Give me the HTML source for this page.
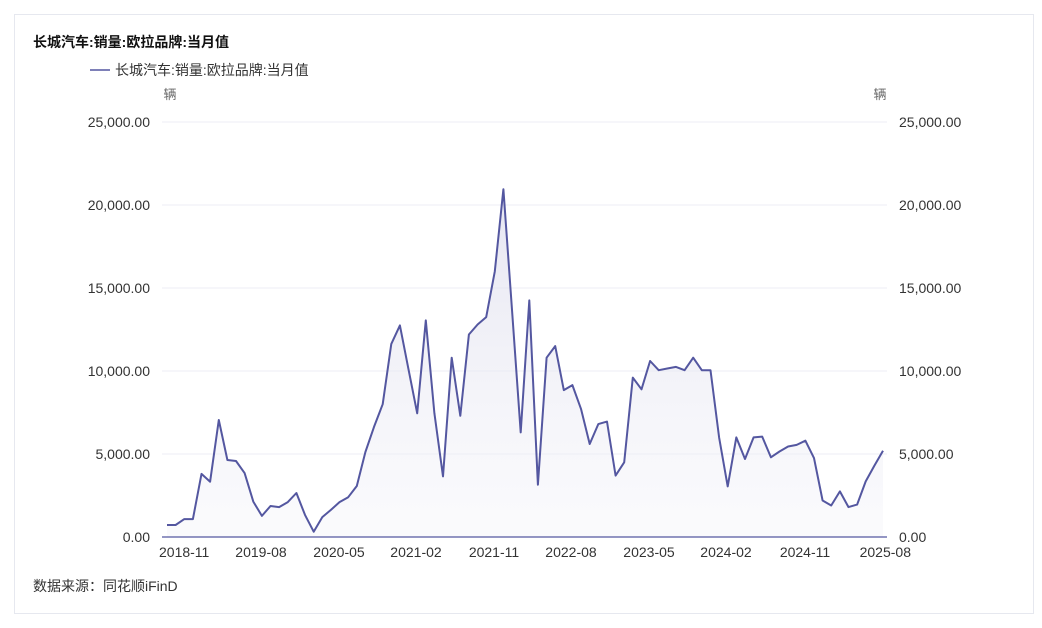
<!DOCTYPE html>
<html><head><meta charset="utf-8"><style>
body{margin:0;background:#fff;width:1042px;height:623px;overflow:hidden;font-family:"Liberation Sans","Noto Sans CJK SC",sans-serif}
</style></head><body>
<svg id="s" width="1042" height="623" xmlns="http://www.w3.org/2000/svg" font-family="Liberation Sans, Noto Sans CJK SC, sans-serif">
<defs><linearGradient id="g" x1="0" y1="0" x2="0" y2="1"><stop offset="0" stop-color="#dcdcec" stop-opacity="0.7"/><stop offset="1" stop-color="#f4f4f9" stop-opacity="0.4"/></linearGradient></defs>
<rect x="14.5" y="14.5" width="1019" height="599" fill="#fff" stroke="#e6e8ef"/>
<text x="33" y="47" font-size="14" font-weight="bold" fill="#111">长城汽车:销量:欧拉品牌:当月值</text>
<line x1="90" y1="70" x2="110" y2="70" stroke="#5457a0" stroke-width="1.5"/>
<text x="115" y="75" font-size="14" fill="#333">长城汽车:销量:欧拉品牌:当月值</text>
<text x="170" y="99" font-size="13" fill="#666" text-anchor="middle">辆</text>
<text x="880" y="99" font-size="13" fill="#666" text-anchor="middle">辆</text>
<g id="grid"></g>
<path id="area" fill="url(#g)"/>
<polyline id="ln" fill="none" stroke="#5457a0" stroke-width="2" stroke-linejoin="round"/>
<line x1="162" y1="537" x2="887" y2="537" stroke="#5457a0" stroke-width="1.3"/>
<g font-size="14" fill="#333">
<text x="159" y="557">2018-11</text>
<text x="261" y="557" text-anchor="middle">2019-08</text>
<text x="339" y="557" text-anchor="middle">2020-05</text>
<text x="416" y="557" text-anchor="middle">2021-02</text>
<text x="494" y="557" text-anchor="middle">2021-11</text>
<text x="571" y="557" text-anchor="middle">2022-08</text>
<text x="649" y="557" text-anchor="middle">2023-05</text>
<text x="726" y="557" text-anchor="middle">2024-02</text>
<text x="805" y="557" text-anchor="middle">2024-11</text>
<text x="911" y="557" text-anchor="end">2025-08</text>
</g>
<text x="33" y="591" font-size="14" fill="#333">数据来源：同花顺iFinD</text>
</svg>
<script>
var v=[720,720,1080,1080,3800,3330,7050,4640,4580,3850,2130,1270,1870,1800,2100,2650,1330,320,1200,1630,2100,2400,3070,5120,6630,8000,11630,12750,10100,7450,13050,7450,3650,10800,7300,12200,12800,13250,16000,20950,13600,6300,14250,3150,10800,11500,8850,9150,7700,5600,6800,6950,3700,4500,9600,8900,10600,10050,10150,10250,10050,10800,10050,10050,6000,3050,6000,4700,6000,6050,4800,5150,5450,5550,5800,4750,2200,1900,2750,1800,1950,3350,4300,5200];
var x0=167,x1=883,n=v.length,pts=[];
for(var i=0;i<n;i++){pts.push((x0+(x1-x0)*i/(n-1)).toFixed(1)+","+(537-v[i]*0.0166).toFixed(1));}
document.getElementById('ln').setAttribute('points',pts.join(' '));
document.getElementById('area').setAttribute('d','M'+x0+',537 L'+pts.join(' L')+' L'+x1+',537Z');
var g=document.getElementById('grid'),h='';
for(var k=0;k<=5;k++){var y=537-k*83;var lab=(k*5000).toLocaleString('en-US')+'.00';
if(k>0)h+='<line x1="162" y1="'+y+'" x2="887" y2="'+y+'" stroke="#eceef5"/>';
h+='<text x="150" y="'+(y+5)+'" font-size="14" fill="#333" text-anchor="end">'+lab+'</text>';
h+='<text x="899" y="'+(y+5)+'" font-size="14" fill="#333">'+lab+'</text>';}
g.innerHTML=h;
</script>
</body></html>
